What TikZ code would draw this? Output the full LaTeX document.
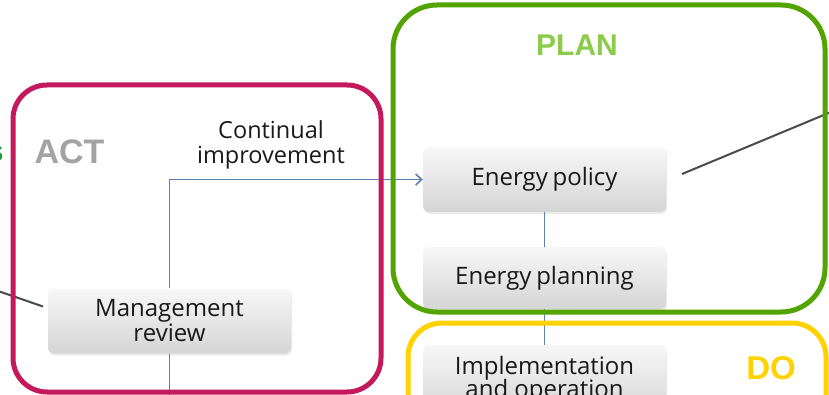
\documentclass[tikz,border=0pt]{standalone}
\usepackage{fontspec}
\setmainfont{Open Sans}
\newfontfamily\headfont{Liberation Sans}
\usetikzlibrary{arrows.meta,shadows}
\definecolor{actred}{HTML}{C4195C}
\definecolor{plangreen}{HTML}{52A500}
\definecolor{planlight}{HTML}{8DCB4C}
\definecolor{doyellow}{HTML}{FFD200}
\definecolor{actgray}{HTML}{A3A3A3}
\definecolor{flowblue}{HTML}{5C7FB3}
\definecolor{leadgray}{HTML}{4A4A4A}
\definecolor{sgreen}{HTML}{1C9A3A}
\tikzset{
  stepbox/.style={rounded corners=6pt, minimum width=243pt, minimum height=65pt,
    top color=gray!6, bottom color=gray!33, draw=none, align=center,
    font=\fontsize{24}{25}\selectfont, text=black!90,
    drop shadow={shadow xshift=1pt, shadow yshift=-2pt, opacity=0.15}},
  frame/.style={line width=5pt, rounded corners=38pt},
  phase/.style={font=\headfont\bfseries\fontsize{34}{34}\selectfont},
  flow/.style={draw=flowblue, line width=1.6pt},
  lead/.style={draw=leadgray, line width=2pt},
  lbl/.style={font=\fontsize{23.5}{25}\selectfont, align=center, text=black!90}
}
\begin{document}
\begin{tikzpicture}[x=1pt,y=-1pt]
\useasboundingbox (0,0) rectangle (829,395);
\clip (0,0) rectangle (829,395);
\fill[white] (0,0) rectangle (829,395);
% boxes
\node[stepbox] (mr) at (169.5,321) {Management\\review};
\node[stepbox] (ep) at (544.5,179.5) {Energy\hspace{-1.5pt} policy};
\node[stepbox, minimum height=62pt] (epl) at (544.5,278) {Energy\hspace{-1.5pt} planning};
\node[stepbox, minimum height=70pt] (io) at (544.5,380) {Implementation\\[-2pt]and operation};
% connectors
\coordinate (mrdown) at (169.5,400);
\draw[flow, -{Straight Barb[length=6pt,width=11pt]}] (mr.north) |- (ep.west);
\draw[flow] (mr.south) -- (mrdown);
\draw[flow] (ep.south) -- (epl.north);
\draw[flow] (epl.south) -- (io.north);
% lead lines
\coordinate (rlead0) at (682,174);
\coordinate (rlead1) at (831,112);
\draw[lead] (rlead0) -- (rlead1);
\coordinate (llead0) at (-2,291);
\coordinate (llead1) at (43,306.5);
\draw[lead] (llead0) -- (llead1);
% frames
\draw[frame, draw=actred, rounded corners=34pt] (13,85) rectangle (381,392);
\draw[frame, draw=plangreen, rounded corners=44pt] (393,5) rectangle (825,312);
\draw[frame, draw=doyellow, rounded corners=34pt] (408,323) rectangle (826,440);
% labels
\node[phase, text=actgray, anchor=west] (act) at (31,152) {ACT};
\node[phase, text=planlight, font=\headfont\bfseries\fontsize{30}{30}\selectfont] (plan) at (577,45) {PLAN};
\node[phase, text=doyellow, font=\headfont\bfseries\fontsize{33}{33}\selectfont] (do) at (771,368) {DO};
\node[phase, text=sgreen, anchor=base east, font=\headfont\bfseries\fontsize{30}{30}\selectfont] (sfrag) at (7,162) {s};
\node[lbl] (ci) at (271,145) {Continual\\improvement};
\end{tikzpicture}
\end{document}
